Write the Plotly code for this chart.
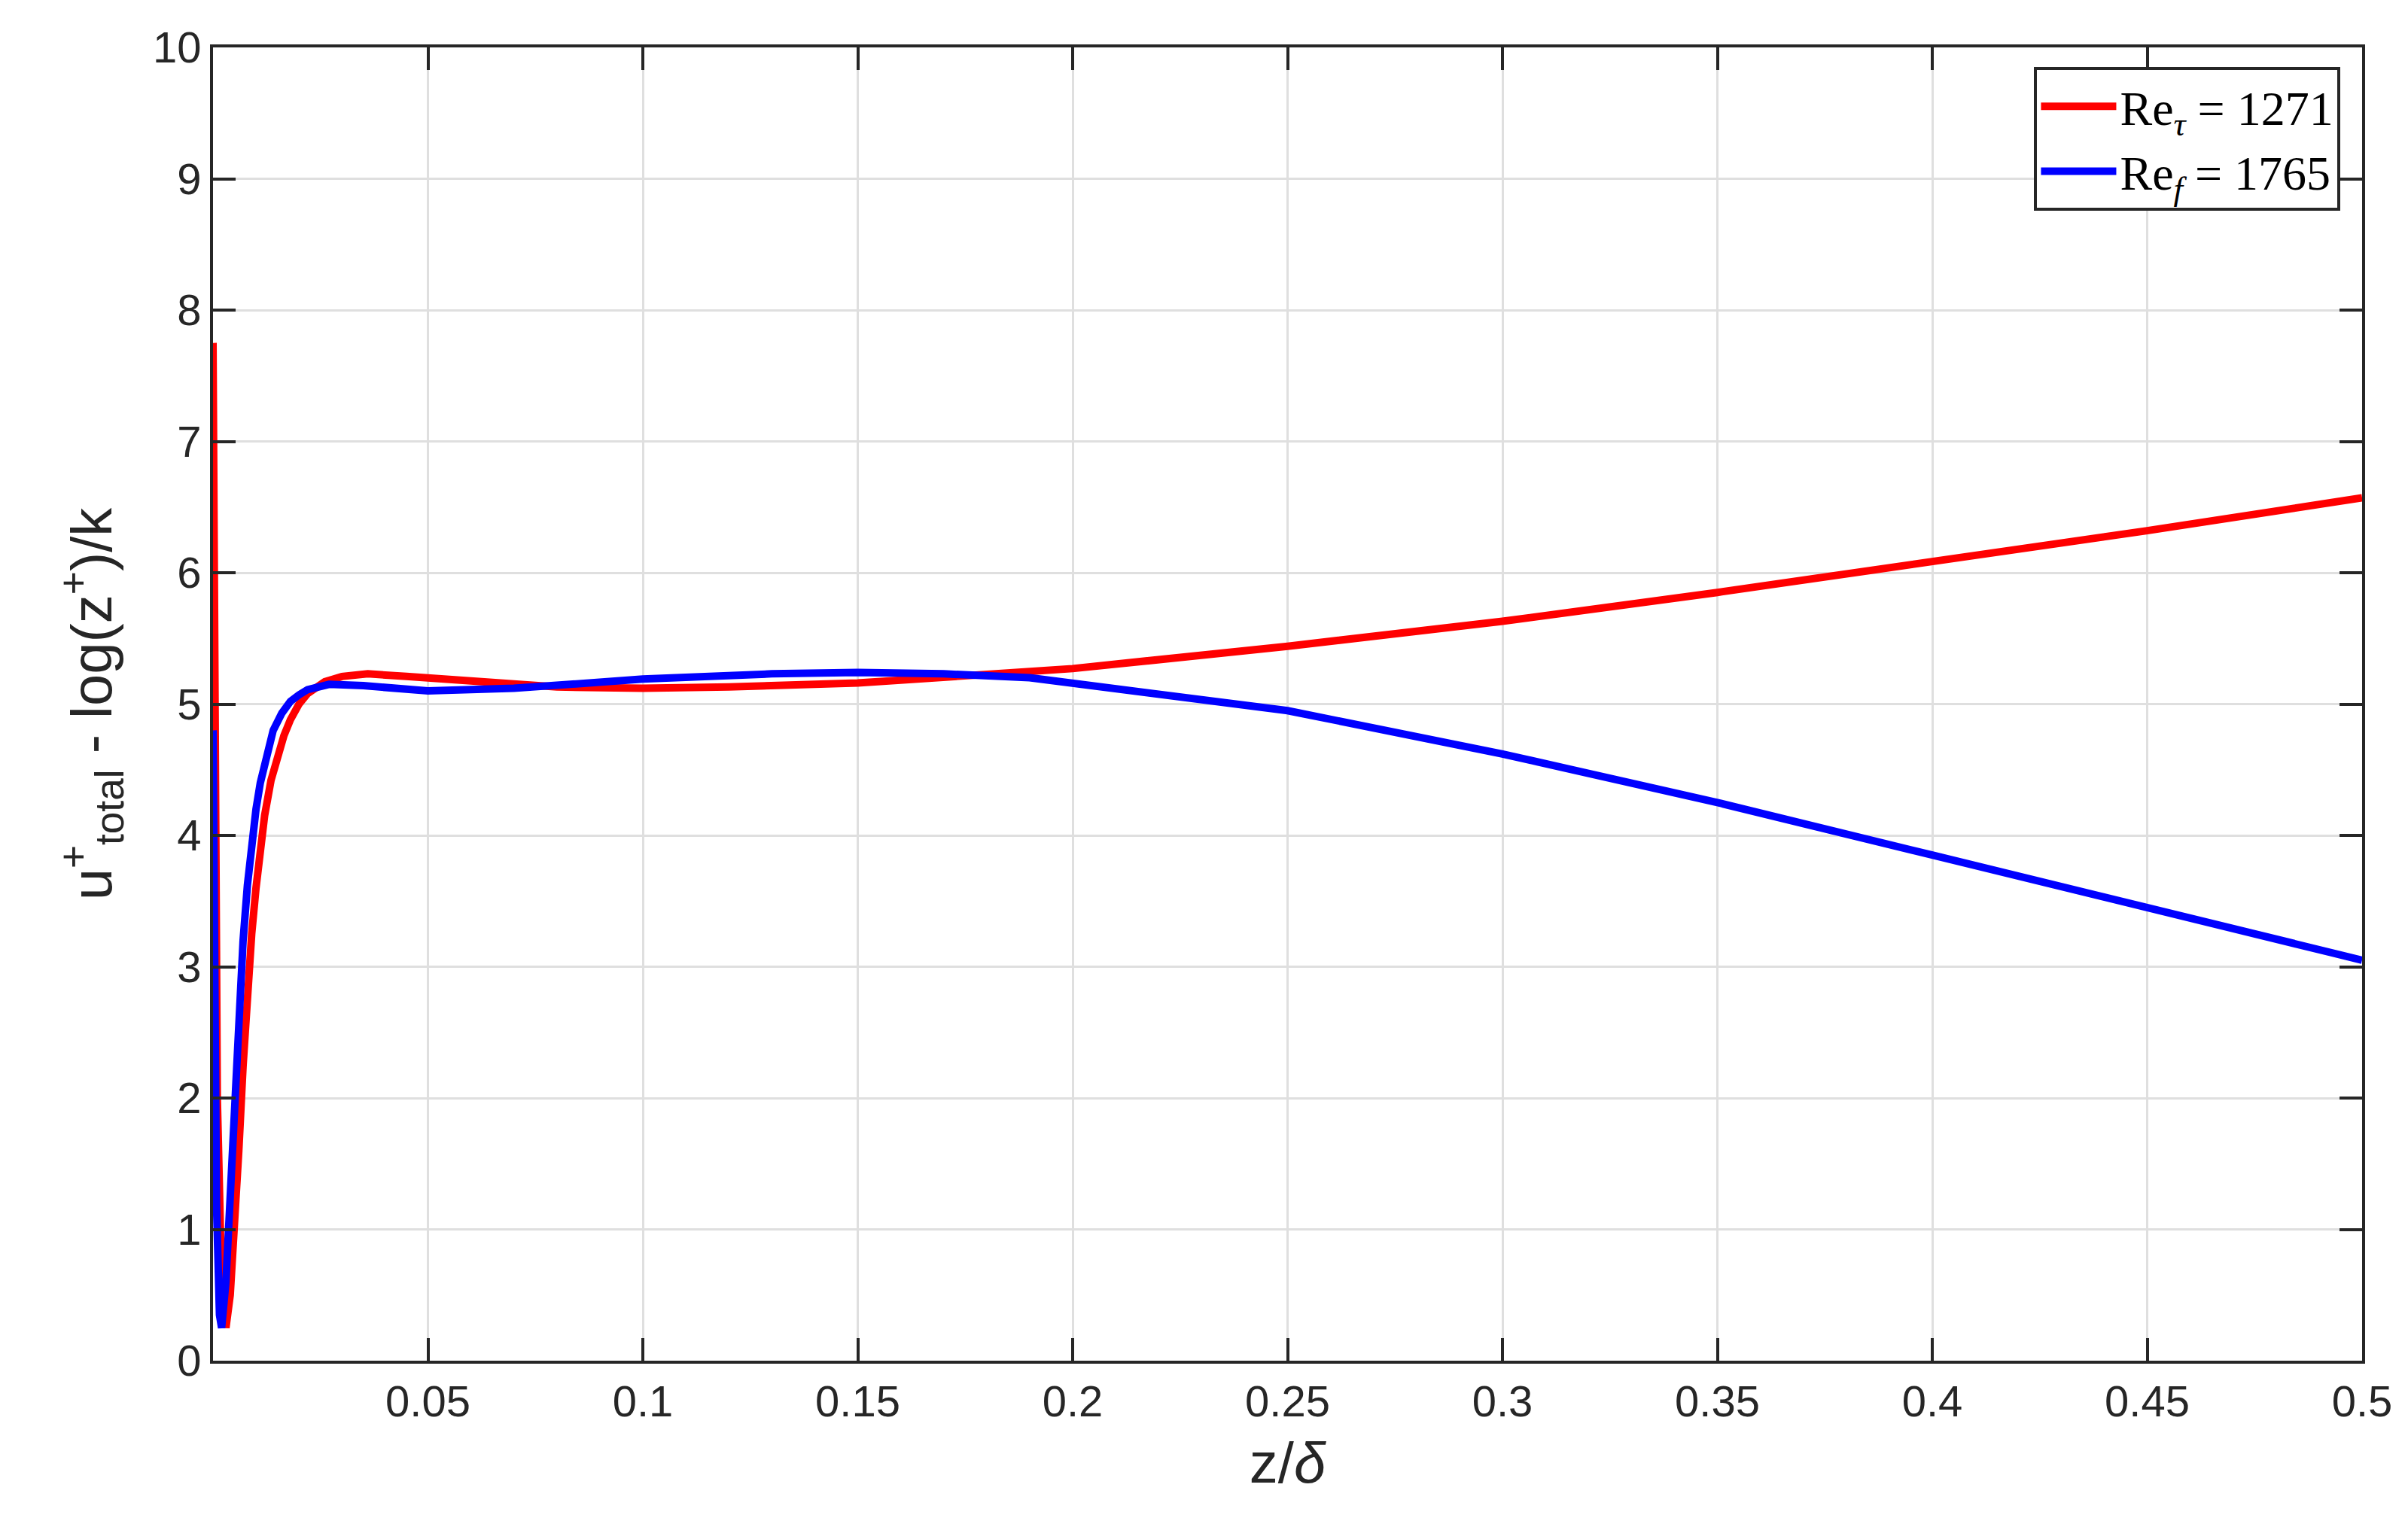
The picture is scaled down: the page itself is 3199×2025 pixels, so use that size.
import plotly.graph_objects as go

# z/delta and u+ - log(z+)/k
z_red = [0, 0.0002, 0.0005, 0.001, 0.002, 0.003, 0.004, 0.005, 0.006, 0.007, 0.008, 0.009,
         0.01, 0.011, 0.012, 0.0135, 0.015, 0.0165, 0.018, 0.02, 0.022, 0.024, 0.026, 0.03,
         0.036, 0.045, 0.06, 0.08, 0.1, 0.12, 0.15, 0.18, 0.2, 0.25, 0.3, 0.35, 0.4, 0.45, 0.5]
u_red = [7.75, 6.0, 4.0, 2.0, 0.6, 0.25, 0.5, 1.0, 1.6, 2.25, 2.8, 3.25,
         3.6, 3.9, 4.15, 4.42, 4.6, 4.76, 4.88, 5.0, 5.08, 5.13, 5.17, 5.21,
         5.23, 5.21, 5.17, 5.13, 5.12, 5.13, 5.16, 5.22, 5.27, 5.44, 5.63, 5.85, 6.08, 6.32, 6.57]

z_blue = [0, 0.0003, 0.0008, 0.0015, 0.002, 0.003, 0.004, 0.005, 0.006, 0.007, 0.008, 0.009,
          0.01, 0.011, 0.0125, 0.014, 0.016, 0.018, 0.02, 0.022, 0.027, 0.035, 0.05, 0.07,
          0.1, 0.13, 0.15, 0.17, 0.19, 0.21, 0.25, 0.3, 0.35, 0.4, 0.45, 0.5]
u_blue = [4.8, 3.0, 1.2, 0.35, 0.25, 0.6, 1.3, 2.0, 2.65, 3.2, 3.62, 3.95,
          4.2, 4.4, 4.62, 4.8, 4.93, 5.02, 5.07, 5.11, 5.15, 5.14, 5.1, 5.12,
          5.19, 5.23, 5.24, 5.23, 5.2, 5.12, 4.95, 4.62, 4.25, 3.85, 3.45, 3.05]

x_ticks = [0.05, 0.1, 0.15, 0.2, 0.25, 0.3, 0.35, 0.4, 0.45, 0.5]

fig = go.Figure()
fig.add_trace(go.Scatter(x=z_red, y=u_red, mode="lines", line=dict(color="#ff0000", width=10),
                         name="Re<sub><i>τ</i></sub> = 1271"))
fig.add_trace(go.Scatter(x=z_blue, y=u_blue, mode="lines", line=dict(color="#0000ff", width=10),
                         name="Re<sub><i>f</i></sub> = 1765"))

axis_common = dict(showgrid=True, gridcolor="#dfdfdf", gridwidth=3, showline=True,
                   linecolor="#262626", linewidth=4, mirror="ticks", ticks="inside",
                   ticklen=30, tickwidth=4, tickcolor="#262626", zeroline=False,
                   tickfont=dict(family="Liberation Sans", size=58, color="#262626"))

fig.update_xaxes(range=[0, 0.5], tickvals=x_ticks, ticktext=[str(t) for t in x_ticks],
                 title=dict(text="z/<i>δ</i>", font=dict(family="Liberation Sans", size=76, color="#262626"),
                            standoff=25),
                 **axis_common)
fig.update_yaxes(range=[0, 10], dtick=1,
                 title=dict(text="u<sup>+</sup><sub>total</sub> - log(z<sup>+</sup>)/k",
                            font=dict(family="Liberation Sans", size=76, color="#262626"),
                            standoff=30),
                 **axis_common)

fig.update_layout(
    width=3199, height=2025,
    margin=dict(l=275, r=69, t=55, b=225),
    plot_bgcolor="white", paper_bgcolor="white",
    legend=dict(x=0.99, y=0.985, xanchor="right", yanchor="top",
                bgcolor="white", bordercolor="#262626", borderwidth=4,
                font=dict(family="Liberation Serif", size=64, color="black"),
                itemwidth=100),
)

fig.write_html("out.html")
